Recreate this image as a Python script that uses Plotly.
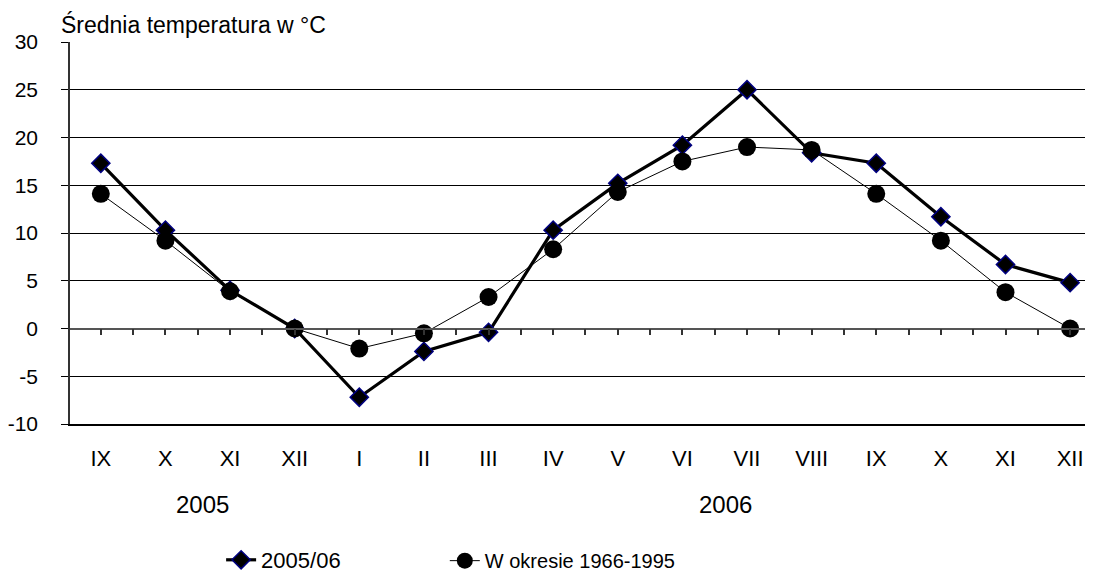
import plotly.graph_objects as go

months = ["IX", "X", "XI", "XII", "I", "II", "III", "IV", "V", "VI", "VII", "VIII", "IX", "X", "XI", "XII"]
temp_2005_06 = [17.3, 10.3, 4.0, 0.0, -7.2, -2.4, -0.4, 10.3, 15.2, 19.2, 25.0, 18.4, 17.3, 11.7, 6.7, 4.8]
temp_1966_1995 = [14.1, 9.2, 3.9, 0.0, -2.1, -0.5, 3.3, 8.3, 14.3, 17.5, 19.0, 18.7, 14.1, 9.2, 3.8, 0.0]
y_ticks = [-10, -5, 0, 5, 10, 15, 20, 25, 30]
y_ticktext = ["-10", "-5", "0", "5", "10", "15", "20", "25", "30"]
year_labels = ["2005", "2006"]
year_pos = [1.58, 9.66]

x = list(range(len(months)))
FONT = "Liberation Sans, Arial, sans-serif"
xr = [-0.477, 15.354]

# The page body has an 8px default margin: figure is sized/shifted to compensate.
W, H = 1085, 573
PL, PT, PW, PH = 56, 34, 1029, 383


def px_to_paper_x(page_x):
    return (page_x - 8 - PL) / PW


def px_to_paper_y(page_y):
    return (PT + PH - (page_y - 8)) / PH


fig = go.Figure()
fig.add_trace(go.Scatter(
    x=x, y=temp_2005_06, name="2005/06", mode="lines+markers",
    line=dict(color="black", width=3.2),
    marker=dict(symbol="diamond", size=14, color="black",
                line=dict(color="#000080", width=1.5)),
    legend="legend",
))
fig.add_trace(go.Scatter(
    x=x, y=temp_1966_1995, name="W okresie 1966-1995", mode="lines+markers",
    line=dict(color="black", width=1),
    marker=dict(symbol="circle", size=18, color="black",
                line=dict(color="black", width=0)),
    legend="legend2",
))

# zero axis line with tick marks
fig.add_trace(go.Scatter(x=[0], y=[None], xaxis="x2", showlegend=False, hoverinfo="skip"))

annotations = [
    dict(text="Średnia temperatura w °C", xref="paper", yref="paper",
         x=px_to_paper_x(53), y=px_to_paper_y(24), xanchor="left", yanchor="middle",
         showarrow=False, font=dict(size=23, color="black", family=FONT)),
]
for lbl, pos in zip(year_labels, year_pos):
    annotations.append(dict(text=lbl, xref="x", yref="paper", x=pos, y=px_to_paper_y(506),
                            xanchor="center", yanchor="middle", showarrow=False,
                            font=dict(size=24, color="black", family=FONT)))

fig.update_layout(
    width=W, height=H,
    margin=dict(l=PL, r=W - PL - PW, t=PT, b=H - PT - PH),
    paper_bgcolor="white", plot_bgcolor="white",
    font=dict(family=FONT, color="black"),
    xaxis=dict(range=xr, tickvals=x, ticktext=months, showgrid=False, zeroline=False,
               showline=True, linecolor="black", linewidth=1.5, ticks="",
               tickfont=dict(size=22), ticklabelstandoff=14),
    xaxis2=dict(range=xr, overlaying="x", anchor="free", position=0.25, side="bottom",
                showline=True, linecolor="#555555", linewidth=1.5, ticks="outside",
                ticklen=6, tickwidth=1.5, tickcolor="#333333", tick0=-0.5, dtick=0.5,
                showticklabels=False, showgrid=False, zeroline=False),
    yaxis=dict(range=[-10, 30], tickvals=y_ticks, ticktext=y_ticktext, showgrid=True,
               gridcolor="black", gridwidth=1,
               zeroline=False, showline=True, linecolor="#333333", linewidth=1.5,
               ticks="outside", ticklen=7, tickcolor="black", tickfont=dict(size=21),
               ticklabelstandoff=19),
    legend=dict(orientation="h", x=px_to_paper_x(216), y=px_to_paper_y(562), xanchor="left",
                yanchor="middle", font=dict(size=22), bgcolor="rgba(0,0,0,0)"),
    legend2=dict(orientation="h", x=px_to_paper_x(441), y=px_to_paper_y(562), xanchor="left",
                 yanchor="middle", font=dict(size=20), bgcolor="rgba(0,0,0,0)"),
    annotations=annotations,
    showlegend=True,
)

fig.write_html("out.html")
